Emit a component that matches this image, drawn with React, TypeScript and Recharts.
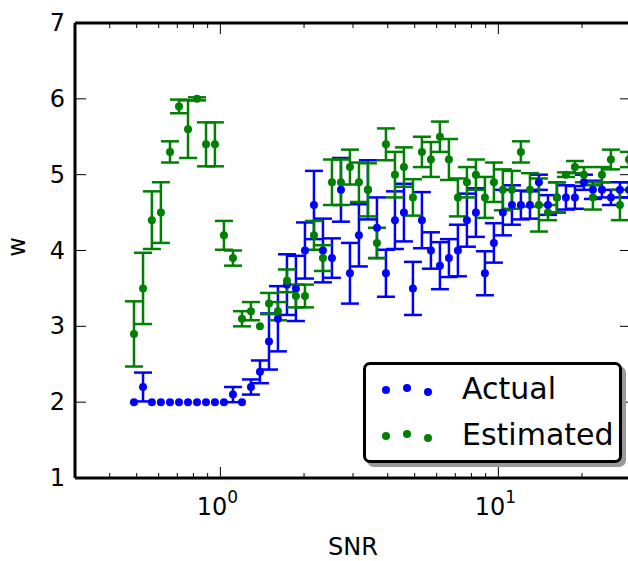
import { ScatterChart, Scatter, XAxis, YAxis, ErrorBar, ReferenceLine, Label } from 'recharts';

const BLUE = '#0000ff';
const GREEN = '#008000';

// x positions of the measurements (log spaced SNR)
const snr = [
  0.489, 0.527, 0.567, 0.611, 0.659, 0.71, 0.765, 0.824, 0.888, 0.956,
  1.03, 1.11, 1.196, 1.288, 1.388, 1.496, 1.611, 1.736, 1.87, 2.015,
  2.171, 2.339, 2.52, 2.715, 2.925, 3.151, 3.395, 3.658, 3.941, 4.246,
  4.574, 4.928, 5.309, 5.72, 6.163, 6.64, 7.153, 7.707, 8.303, 8.945,
  9.638, 10.38, 11.19, 12.05, 12.99, 13.99, 15.08, 16.24, 17.5, 18.85,
  20.31, 21.88, 23.58, 25.4, 27.37, 29.49,
];

const actualW = [
  2.0, 2.2, 2.0, 2.0, 2.0, 2.0, 2.0, 2.0, 2.0, 2.0,
  2.0, 2.1, 2.0, 2.2, 2.4, 2.8, 3.1, 3.55, 3.5, 4.0,
  4.6, 4.0, 3.9, 4.8, 3.7, 4.2, 4.8, 4.3, 3.7, 4.4,
  4.5, 3.5, 4.4, 4.0, 3.8, 3.9, 4.0, 4.4, 4.5, 3.7,
  4.1, 4.5, 4.6, 4.6, 4.6, 4.9, 4.6, 4.7, 4.7, 4.7,
  4.9, 4.8, 4.8, 4.7, 4.8, 4.8,
];
const actualErr = [
  0, 0.19, 0, 0, 0, 0, 0, 0, 0, 0,
  0, 0.1, 0, 0.1, 0.15, 0.37, 0.43, 0.4, 0.43, 0.37,
  0.45, 0.42, 0.26, 0.42, 0.4, 0.41, 0.39, 0.4, 0.31, 0.38,
  0.38, 0.35, 0.37, 0.24, 0.31, 0.25, 0.34, 0.35, 0.32, 0.29,
  0.26, 0.3, 0.26, 0.19, 0.18, 0.1, 0.13, 0.2, 0.16, 0.15,
  0.1, 0.12, 0.1, 0.1, 0.1, 0.1,
];

const estW = [
  2.9, 3.5, 4.4, 4.5, 5.3, 5.9, 5.6, 6.0, 5.4, 5.4,
  4.2, 3.9, 3.1, 3.2, 3.0, 3.3, 3.2, 3.6, 3.4, 3.4,
  4.2, 3.9, 4.9, 4.9, 5.1, 4.9, 4.8, 4.1, 5.4, 5.0,
  5.1, 4.7, 5.3, 5.2, 5.5, 5.2, 4.7, 4.9, 5.0, 4.7,
  4.9, 4.8, 4.8, 5.3, 4.8, 4.6, 4.5, 4.7, 5.0, 5.1,
  5.0, 4.7, 5.0, 5.2, 4.6, 5.2,
];
const estErr = [
  0.43, 0.47, 0.38, 0.4, 0.14, 0.09, 0.38, 0.02, 0.29, 0.29,
  0.19, 0.1, 0.1, 0.12, 0, 0.14, 0.12, 0.15, 0.15, 0.15,
  0.19, 0.17, 0.3, 0.3, 0.23, 0.26, 0.35, 0.2, 0.21, 0.3,
  0.26, 0.24, 0.2, 0.23, 0.2, 0.27, 0.25, 0.2, 0.2, 0.27,
  0.26, 0.27, 0.25, 0.14, 0.22, 0.35, 0.1, 0.2, 0.03, 0.08,
  0.1, 0.16, 0.1, 0.13, 0.2, 0.1,
];

const xTicks = [0.3, 0.4, 0.5, 0.6, 0.7, 0.8, 0.9, 1, 2, 3, 4, 5, 6, 7, 8, 9, 10, 20, 30];
const yTicks = [1, 2, 3, 4, 5, 6, 7];

const actualData = snr.map((s, i) => ({ snr: s, w: actualW[i], err: actualErr[i] }));
const estData = snr.map((s, i) => ({ snr: s, w: estW[i], err: estErr[i] }));

const PLOT_LEFT = 75;
const PLOT_RIGHT = 631;
const PLOT_TOP = 23;
const PLOT_BOTTOM = 478;
const FONT = '"DejaVu Sans", sans-serif';

function XTick(props: any) {
  const { x, payload } = props;
  const v = payload.value;
  const major = v === 1 || v === 10;
  const len = major ? 11 : 5;
  return (
    <g>
      <line x1={x} x2={x} y1={PLOT_BOTTOM} y2={PLOT_BOTTOM - len} stroke="#000" strokeWidth={1} />
      <line x1={x} x2={x} y1={PLOT_TOP} y2={PLOT_TOP + len} stroke="#000" strokeWidth={1} />
      {major && (
        <text x={x - 3} y={515} textAnchor="middle" fontSize={24} fontFamily={FONT} fill="#000">
          <tspan>10</tspan>
          <tspan dy={-12} fontSize={17}>{v === 1 ? '0' : '1'}</tspan>
        </text>
      )}
    </g>
  );
}

function YTick(props: any) {
  const { y, payload } = props;
  return (
    <g>
      <line x1={PLOT_LEFT} x2={PLOT_LEFT + 11} y1={y} y2={y} stroke="#000" strokeWidth={1} />
      <line x1={PLOT_RIGHT - 11} x2={PLOT_RIGHT} y1={y} y2={y} stroke="#000" strokeWidth={1} />
      <text x={65} y={y} textAnchor="end" dominantBaseline="central" fontSize={24} fontFamily={FONT} fill="#000">
        {payload.value}
      </text>
    </g>
  );
}

const dot = (color: string) => (p: any) => <circle cx={p.cx} cy={p.cy} r={4} fill={color} />;

function LegendBox() {
  const rows = [
    { label: 'Actual', color: BLUE, y: 25 },
    { label: 'Estimated', color: GREEN, y: 71 },
  ];
  return (
    <div
      style={{
        position: 'absolute',
        left: 363,
        top: 362,
        width: 259,
        height: 101,
        boxSizing: 'border-box',
        border: '3px solid #000',
        borderRadius: 7,
        background: '#fff',
        boxShadow: '4px 4px 0 #999',
      }}
    >
      <svg width={253} height={95} style={{ position: 'absolute', left: 0, top: 0 }}>
        {rows.map(r => (
          <g key={r.label}>
            <circle cx={20} cy={r.y} r={4} fill={r.color} />
            <circle cx={41} cy={r.y - 2} r={4} fill={r.color} />
            <circle cx={62} cy={r.y + 2} r={4} fill={r.color} />
            <text x={96} y={r.y + 9} fontSize={30} fontFamily={FONT} fill="#000">
              {r.label}
            </text>
          </g>
        ))}
      </svg>
    </div>
  );
}

export default function App() {
  return (
    <div
      style={{
        position: 'absolute',
        left: 0,
        top: 0,
        width: 628,
        height: 561,
        overflow: 'hidden',
        background: '#fff',
        fontFamily: FONT,
      }}
    >
      <ScatterChart width={640} height={561} margin={{ top: PLOT_TOP, right: 9, bottom: 0, left: 0 }}>
        <XAxis
          dataKey="snr"
          type="number"
          scale="log"
          domain={[0.3, 30]}
          allowDataOverflow
          ticks={xTicks}
          interval={0}
          tick={<XTick />}
          tickLine={false}
          height={83}
          axisLine={{ stroke: '#000', strokeWidth: 3 }}
        >
          <Label
            content={(p: any) => (
              <text
                x={p.viewBox.x + p.viewBox.width / 2}
                y={555}
                textAnchor="middle"
                fontSize={24}
                fontFamily={FONT}
                fill="#000"
              >
                SNR
              </text>
            )}
          />
        </XAxis>
        <YAxis
          dataKey="w"
          type="number"
          domain={[1, 7]}
          allowDataOverflow
          ticks={yTicks}
          interval={0}
          tick={<YTick />}
          tickLine={false}
          width={PLOT_LEFT}
          axisLine={{ stroke: '#000', strokeWidth: 3 }}
        >
          <Label
            content={() => (
              <text
                x={17}
                y={247}
                transform="rotate(-90 17 247)"
                textAnchor="middle"
                dominantBaseline="central"
                fontSize={24}
                fontFamily={FONT}
                fill="#000"
              >
                w
              </text>
            )}
          />
        </YAxis>
        <ReferenceLine y={7} stroke="#000" strokeWidth={3} ifOverflow="visible" />
        <ReferenceLine x={30} stroke="#000" strokeWidth={3} ifOverflow="visible" />
        <Scatter name="Actual" data={actualData} fill={BLUE} shape={dot(BLUE)} isAnimationActive={false}>
          <ErrorBar dataKey="err" direction="y" width={9} stroke={BLUE} strokeWidth={2.5} />
        </Scatter>
        <Scatter name="Estimated" data={estData} fill={GREEN} shape={dot(GREEN)} isAnimationActive={false}>
          <ErrorBar dataKey="err" direction="y" width={9} stroke={GREEN} strokeWidth={2.5} />
        </Scatter>
      </ScatterChart>
      <LegendBox />
    </div>
  );
}
